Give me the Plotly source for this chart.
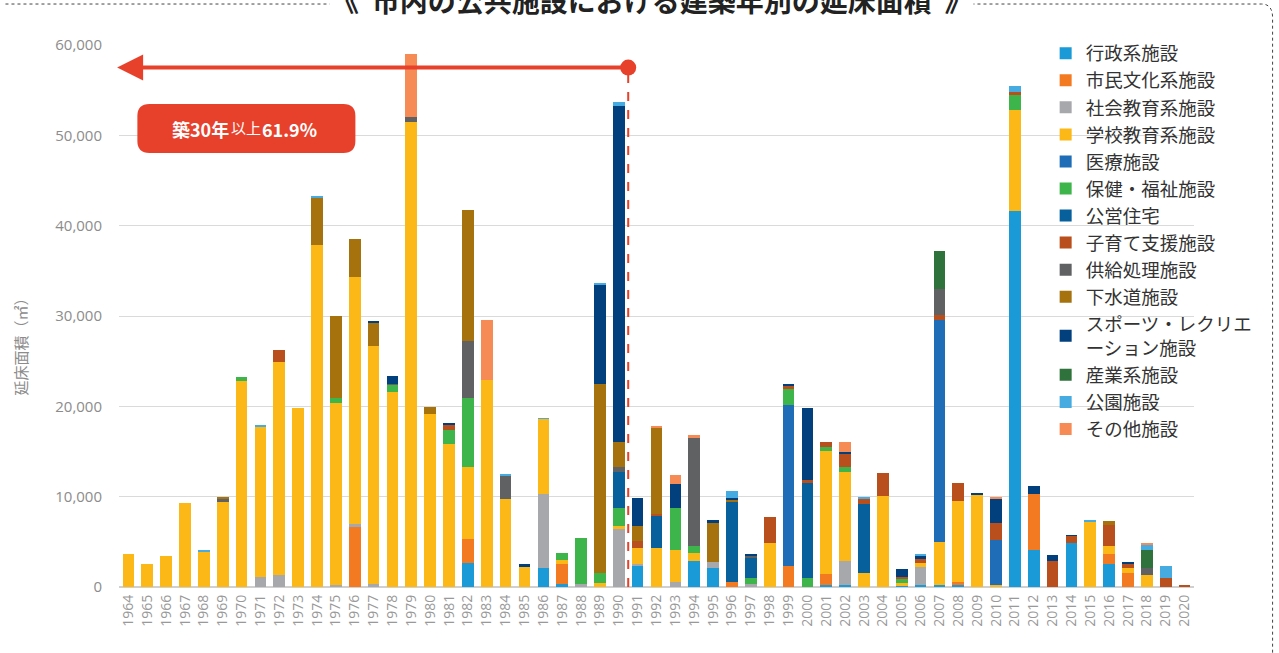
import plotly.graph_objects as go

years = [str(y) for y in range(1964, 2021)]

# 延床面積（㎡） per category, 1964..2020
gyosei = [0, 0, 0, 0, 0, 0, 0, 0, 0, 0,
          0, 0, 0, 0, 0, 0, 0, 0, 2700, 0,
          0, 0, 2100, 300, 0, 0, 0, 2400, 0, 0,
          2900, 2100, 0, 0, 0, 0, 0, 200, 200, 0,
          0, 200, 200, 200, 200, 0, 0, 41600, 4100, 0,
          4900, 0, 2600, 0, 0, 0, 0]
shimin = [0, 0, 0, 0, 0, 0, 0, 0, 0, 0,
          0, 0, 6600, 0, 0, 0, 0, 0, 2600, 0,
          0, 0, 0, 2300, 0, 0, 0, 0, 0, 0,
          0, 0, 600, 0, 0, 2300, 0, 1200, 0, 0,
          0, 0, 0, 0, 400, 0, 0, 0, 6200, 0,
          0, 0, 1100, 1500, 0, 0, 0]
shakai = [0, 0, 0, 0, 0, 0, 0, 1100, 1300, 0,
          0, 200, 400, 300, 0, 0, 0, 0, 0, 0,
          0, 0, 8200, 0, 300, 0, 6400, 200, 0, 550,
          0, 700, 0, 300, 0, 0, 0, 0, 2700, 0,
          0, 0, 2000, 0, 0, 0, 0, 0, 0, 0,
          0, 0, 0, 0, 0, 0, 0]
gakko = [3600, 2500, 3400, 9300, 3900, 9400, 22800, 16700, 23600, 19800,
         37900, 20200, 27300, 26400, 21600, 51500, 19200, 15800, 8000, 22900,
         9700, 2300, 8300, 400, 0, 450, 400, 1700, 4300, 3500,
         900, 0, 0, 0, 4900, 0, 0, 13700, 9800, 1600,
         10100, 200, 450, 4800, 8900, 10200, 200, 11200, 0, 0,
         0, 7200, 850, 650, 1300, 0, 0]
iryo = [0, 0, 0, 0, 0, 0, 0, 0, 0, 0,
        0, 0, 0, 0, 0, 0, 0, 0, 0, 0,
        0, 0, 0, 0, 0, 0, 0, 0, 0, 0,
        0, 0, 0, 0, 0, 17900, 0, 0, 0, 0,
        0, 0, 0, 24600, 0, 0, 5000, 0, 0, 0,
        0, 0, 0, 0, 0, 0, 0]
hoken = [0, 0, 0, 0, 0, 0, 400, 0, 0, 0,
         0, 500, 0, 0, 800, 0, 0, 1600, 7600, 0,
         0, 0, 0, 800, 5100, 1100, 1900, 0, 0, 4700,
         700, 0, 0, 700, 0, 1700, 1000, 400, 600, 0,
         0, 450, 0, 0, 0, 0, 0, 1700, 0, 0,
         0, 0, 0, 0, 0, 0, 0]
koei = [0, 0, 0, 0, 0, 0, 0, 0, 0, 0,
        0, 0, 0, 0, 0, 0, 0, 0, 0, 0,
        0, 0, 0, 0, 0, 0, 4000, 0, 3600, 0,
        0, 0, 8900, 2300, 0, 0, 10500, 0, 0, 7600,
        0, 0, 0, 0, 0, 0, 0, 0, 0, 0,
        0, 0, 0, 0, 0, 0, 0]
kosodate = [0, 0, 0, 0, 0, 0, 0, 0, 1300, 0,
            0, 0, 0, 0, 0, 0, 0, 600, 0, 0,
            0, 0, 0, 0, 0, 0, 0, 800, 200, 0,
            0, 0, 0, 0, 2800, 300, 300, 600, 1500, 600,
            2500, 300, 500, 500, 2000, 0, 1900, 300, 0, 2850,
            750, 0, 2300, 500, 0, 1000, 200]
kyokyu = [0, 0, 0, 0, 0, 400, 0, 0, 0, 0,
          0, 0, 0, 0, 100, 500, 0, 0, 6300, 0,
          2600, 0, 0, 0, 0, 0, 600, 0, 0, 0,
          12100, 0, 0, 100, 0, 0, 0, 0, 0, 0,
          0, 0, 0, 2900, 0, 0, 0, 0, 0, 0,
          0, 0, 0, 0, 750, 0, 0]
gesui = [0, 0, 0, 0, 0, 100, 0, 0, 0, 0,
         5200, 9100, 4200, 2600, 0, 0, 700, 0, 14500, 0,
         0, 0, 0, 0, 0, 20900, 2800, 1600, 9600, 0,
         0, 4300, 200, 0, 0, 0, 0, 0, 0, 0,
         0, 0, 0, 0, 0, 0, 0, 0, 0, 0,
         0, 0, 500, 0, 0, 0, 0]
sports = [0, 0, 0, 0, 0, 0, 0, 0, 0, 0,
          0, 0, 0, 200, 900, 0, 0, 100, 0, 0,
          0, 200, 0, 0, 0, 11000, 37200, 3200, 0, 2700,
          0, 300, 200, 300, 0, 300, 8000, 0, 100, 0,
          0, 800, 250, 0, 0, 200, 2700, 0, 900, 650,
          100, 0, 0, 150, 0, 0, 0]
sangyo = [0, 0, 0, 0, 0, 0, 0, 0, 0, 0,
          0, 0, 0, 0, 0, 0, 0, 0, 0, 0,
          0, 0, 0, 0, 0, 0, 0, 0, 0, 0,
          0, 0, 0, 0, 0, 0, 0, 0, 0, 0,
          0, 0, 0, 4200, 0, 0, 0, 0, 0, 0,
          0, 0, 0, 0, 2100, 0, 0]
koen = [0, 0, 0, 0, 100, 0, 0, 100, 0, 0,
        100, 0, 0, 0, 0, 0, 0, 0, 0, 0,
        100, 0, 100, 0, 0, 100, 400, 0, 0, 0,
        0, 0, 700, 0, 0, 0, 0, 0, 0, 100,
        0, 0, 300, 0, 0, 0, 0, 700, 0, 0,
        0, 150, 0, 0, 500, 1300, 0]
sonota = [0, 0, 0, 0, 0, 0, 0, 0, 0, 0,
          0, 0, 0, 0, 0, 7000, 0, 0, 0, 6700,
          0, 0, 0, 0, 0, 0, 0, 0, 100, 1000,
          200, 0, 0, 0, 0, 0, 0, 0, 1100, 0,
          0, 0, 0, 0, 0, 0, 100, 0, 0, 0,
          0, 0, 0, 0, 200, 0, 0]

series = [
    ('行政系施設', gyosei, '#1a9ad6'),
    ('市民文化系施設', shimin, '#f47a22'),
    ('社会教育系施設', shakai, '#a7a8ab'),
    ('学校教育系施設', gakko, '#fbb817'),
    ('医療施設', iryo, '#1f6db6'),
    ('保健・福祉施設', hoken, '#3db54a'),
    ('公営住宅', koei, '#07609b'),
    ('子育て支援施設', kosodate, '#b94f1c'),
    ('供給処理施設', kyokyu, '#5f6163'),
    ('下水道施設', gesui, '#a5720d'),
    ('スポーツ・レクリエ<br>ーション施設', sports, '#013f7d'),
    ('産業系施設', sangyo, '#2f723b'),
    ('公園施設', koen, '#46abe0'),
    ('その他施設', sonota, '#f68b55'),
]

RED = '#e8412b'
cut_y = 57500   # 築30年 arrow level
cut_x = 26.5    # between 1990 and 1991

fig = go.Figure()
for name, vals, color in series:
    fig.add_trace(go.Bar(x=years, y=vals, name=name, marker=dict(color=color, line=dict(width=0))))

fig.update_layout(
    barmode='stack',
    bargap=0.38,
    width=1279, height=653,
    margin=dict(l=118.6, r=84.6, t=45, b=66),
    paper_bgcolor='white', plot_bgcolor='white',
    font=dict(family='Noto Sans CJK JP, Noto Sans, sans-serif', color='#333'),
    legend=dict(
        x=0.862, y=1.019, xanchor='left', yanchor='top',
        traceorder='normal', bgcolor='rgba(0,0,0,0)', maxheight=600,
        font=dict(size=18.5, color='#333', family='Noto Sans CJK JP'),
        itemclick=False,
    ),
    xaxis=dict(
        type='category', range=[-0.5, 56.5], tickangle=-90, showgrid=False, automargin=False,
        tickfont=dict(size=14, color='#999', family='Open Sans'),
        ticks='', ticklabelstandoff=4, showline=False,
    ),
    yaxis=dict(
        range=[0, 60000], tickvals=[0, 10000, 20000, 30000, 40000, 50000, 60000],
        tickformat=',', gridcolor='#dadada', gridwidth=1, automargin=False,
        zeroline=True, zerolinecolor='#d0d0d0', zerolinewidth=1.5,
        tickfont=dict(size=15, color='#8c8c8c', family='Open Sans'),
        ticklabelstandoff=16,
    ),
)

# y axis title
fig.add_annotation(text='延床面積（㎡）', textangle=-90, xref='paper', yref='paper',
                   x=-0.0917, y=0.45, xanchor='center', yanchor='middle', showarrow=False,
                   font=dict(size=15, color='#8c8c8c', family='Noto Sans CJK JP'))

# dotted frame (top + right side)
fig.add_shape(type='path', xref='paper', yref='paper',
              path='M -0.1056,1.0756 L 1.0629,1.0756 Q 1.0731,1.0756 1.0731,1.05 L 1.0731,-0.13',
              line=dict(color='#444', width=1, dash='dot'))

# title
fig.add_annotation(text='<b>《  市内の公共施設における建築年別の延床面積  》</b>',
                   xref='paper', yref='paper', x=0.495, y=1.083, xanchor='center', yanchor='middle',
                   showarrow=False, bgcolor='white',
                   font=dict(size=28, color='#222', family='Noto Sans CJK JP'))

# 30-year arrow, dashed cut line and dot
fig.add_shape(type='line', x0=cut_x, x1=cut_x, y0=0, y1=cut_y, xref='x', yref='y',
              line=dict(color=RED, width=2, dash='dash'))
fig.add_annotation(x=-0.6, y=cut_y, ax=cut_x, ay=cut_y, axref='x', ayref='y', xref='x', yref='y',
                   text='', showarrow=True, arrowhead=2, arrowsize=1.3, arrowwidth=4,
                   arrowcolor=RED, standoff=0)
fig.add_shape(type='circle', xref='x', yref='y', xsizemode='pixel', ysizemode='pixel',
              xanchor=cut_x, yanchor=cut_y, x0=-8, x1=8, y0=-8, y1=8,
              fillcolor=RED, line=dict(color=RED, width=0))

# rounded label box
x0, x1, y0, y1 = 0.0171, 0.2199, 0.8007, 0.891
rx, ry = 0.0112, 0.0221
box = (f'M {x0+rx},{y1} L {x1-rx},{y1} Q {x1},{y1} {x1},{y1-ry} L {x1},{y0+ry} '
       f'Q {x1},{y0} {x1-rx},{y0} L {x0+rx},{y0} Q {x0},{y0} {x0},{y0+ry} '
       f'L {x0},{y1-ry} Q {x0},{y1} {x0+rx},{y1} Z')
fig.add_shape(type='path', xref='paper', yref='paper', path=box,
              fillcolor=RED, line=dict(width=0))
label_y = (y0 + y1) / 2
fig.add_annotation(text='<b>築30年</b>', xref='paper', yref='paper', x=0.1035, y=label_y,
                   xanchor='right', yanchor='middle', showarrow=False, borderpad=0,
                   font=dict(size=18, color='white', family='Noto Sans CJK JP'))
fig.add_annotation(text='以上', xref='paper', yref='paper', x=0.1184, y=label_y + 0.002,
                   xanchor='center', yanchor='middle', showarrow=False, borderpad=0,
                   font=dict(size=15, color='white', family='Noto Sans CJK JP'))
fig.add_annotation(text='<b>61.9%</b>', xref='paper', yref='paper', x=0.1325, y=label_y,
                   xanchor='left', yanchor='middle', showarrow=False, borderpad=0,
                   font=dict(size=18, color='white', family='Noto Sans CJK JP'))

fig.write_html("out.html", config={'displayModeBar': False},
               post_script="document.body.style.margin='0';")
